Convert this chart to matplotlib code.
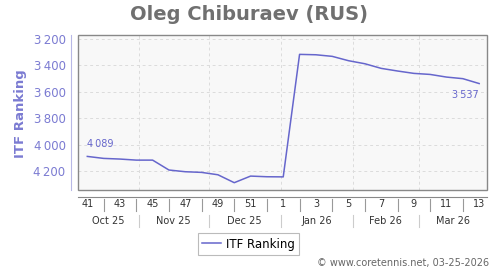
import numpy as np
import matplotlib
matplotlib.use("Agg")
import matplotlib.pyplot as plt
import matplotlib.transforms as mtransforms
from matplotlib.patches import Rectangle

# weekly ITF ranking, week 41/2025 .. week 13/2026
weeks = [41, 42, 43, 44, 45, 46, 47, 48, 49, 50, 51, 52,
         1, 2, 3, 4, 5, 6, 7, 8, 9, 10, 11, 12, 13]
ranking = [4089, 4104, 4109, 4117, 4117, 4192, 4205, 4210, 4228, 4288, 4238, 4243,
           4244, 3316, 3319, 3331, 3364, 3387, 3422, 3442, 3460, 3468, 3488, 3500, 3537]
months = ["Oct 25", "Nov 25", "Dec 25", "Jan 26", "Feb 26", "Mar 26"]
# month boundaries in weeks from first point (Nov 1, Dec 1, Jan 1, Feb 1, Mar 1)
month_edges = [22 / 7, 52 / 7, 83 / 7, 114 / 7, 142 / 7]
yticks = [3200, 3400, 3600, 3800, 4000, 4200]

blue = "#6666cc"
lav = "#7b7bd2"
gray = "#888888"

def fmt(v):
    return f"{v:,}".replace(",", "\u2009")

fig = plt.figure(figsize=(5, 2.7), dpi=100)
ax = fig.add_axes([0.156, 0.296, 0.818, 0.574])
ax.set_facecolor("#f8f8f8")

x = np.arange(len(weeks))
ax.plot(x, ranking, color=blue, lw=1.1, label="ITF Ranking")

xmin, xmax = -0.57, 24.48
ax.set_xlim(xmin, xmax)
ax.set_ylim(4344, 3170)

# frame
ax.add_patch(Rectangle((0, 0), 1, 1, transform=ax.transAxes, fill=False,
                       ec=gray, lw=1.0, clip_on=False, zorder=5))
ax.spines["top"].set_visible(False)
ax.spines["right"].set_visible(False)
ax.spines["left"].set_position(("outward", 5))
ax.spines["left"].set_color("#b8b8e6")
ax.spines["bottom"].set_position(("outward", 5))
ax.spines["bottom"].set_color(gray)

ax.set_yticks(yticks)
ax.set_yticklabels([fmt(v) for v in yticks])
ax.tick_params(axis="y", length=0, pad=4, labelsize=8.5, labelcolor=lav)
ax.set_xticks(month_edges)
ax.set_xticklabels([])
ax.tick_params(axis="x", length=0)
ax.grid(True, color="#dcdcdc", ls=(0, (3, 3)), lw=0.7)
ax.set_axisbelow(True)

# week labels and separators below the axis
trans = mtransforms.blended_transform_factory(ax.transData, ax.transAxes)
for i, w in enumerate(weeks):
    if i % 2 == 0:
        ax.text(i, -0.09, str(w), transform=trans, ha="center", va="center",
                fontsize=7, color="#333333")
    else:
        ax.plot([i, i], [-0.058, -0.135], transform=trans, color="#999999",
                lw=0.8, clip_on=False)
for e in month_edges:
    ax.plot([e, e], [-0.161, -0.239], transform=trans, color="#cccccc",
            lw=0.8, clip_on=False)
bounds = [xmin] + month_edges + [xmax]
for k, m in enumerate(months):
    ax.text((bounds[k] + bounds[k + 1]) / 2, -0.198, m, transform=trans,
            ha="center", va="center", fontsize=7, color="#333333")

# first / last value labels
ax.annotate(fmt(ranking[0]), (x[0], ranking[0]), xytext=(0, 5),
            textcoords="offset points", ha="left", va="bottom",
            fontsize=7, color=blue)
ax.annotate(fmt(ranking[-1]), (x[-1], ranking[-1]), xytext=(0, -5),
            textcoords="offset points", ha="right", va="top",
            fontsize=7, color=blue)

fig.text(0.498, 0.948, "Oleg Chiburaev (RUS)", ha="center", va="center",
         fontsize=14, fontweight="bold", color="#707070")
fig.text(0.042, 0.578, "ITF Ranking", rotation=90, ha="center", va="center",
         fontsize=9.5, fontweight="bold", color=lav)

leg = fig.legend(loc="center", bbox_to_anchor=(0.497, 0.096), fontsize=8.5,
                 frameon=True, fancybox=False, handlelength=1.6,
                 handletextpad=0.5, borderpad=0.35)
leg.get_frame().set_edgecolor("#aaaaaa")
leg.get_frame().set_linewidth(0.8)

fig.text(0.978, 0.026, "\u00a9 www.coretennis.net, 03-25-2026", ha="right",
         va="center", fontsize=7, color="#666666")

fig.savefig("out.png", dpi=100)
